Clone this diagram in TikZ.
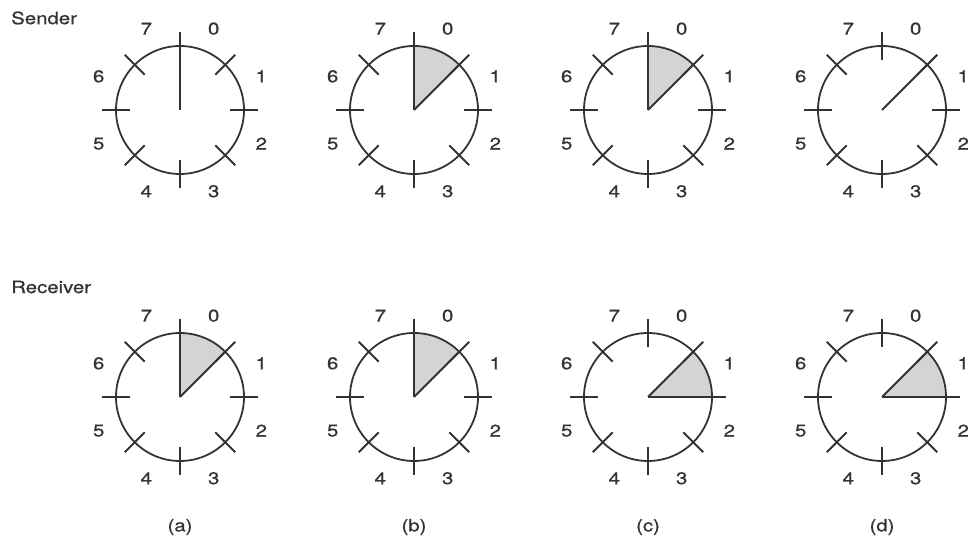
\documentclass[tikz,border=0pt]{standalone}
\usepackage{fontspec}
\setmainfont[FakeStretch=1.2,FakeBold=0.8]{TeX Gyre Heros}
\definecolor{ink}{HTML}{333333}
\definecolor{shade}{HTML}{D4D4D4}
\begin{document}
\begin{tikzpicture}[x=1pt,y=1pt,
  line/.style={draw=ink, line width=1.8pt},
  lbl/.style={font=\fontsize{17}{20}\selectfont, text=ink, inner sep=0pt},
  sector/.style={fill=shade},
  clockface/.pic={
    \draw[line] (0,0) circle[radius=64];
    \foreach \a in {0,45,...,315} \draw[line] (\a:50) -- (\a:78);
    \foreach \n/\ang in {0/67.5,1/22.5,2/-22.5,3/-67.5,4/-112.5,5/-157.5,6/157.5,7/112.5}
      \node[lbl] (-n\n) at (\ang:88) {\n};
  }]
\useasboundingbox (0,0) rectangle (968,543);
\node[lbl, anchor=west] (sender) at (11,525) {Sender};
\node[lbl, anchor=west] (receiver) at (11,256) {Receiver};
% sender row
\coordinate (sa) at (180,433);
\coordinate (sb) at (414,433);
\coordinate (sc) at (648,433);
\coordinate (sd) at (882,433);
% receiver row
\coordinate (ra) at (180,146);
\coordinate (rb) at (414,146);
\coordinate (rc) at (648,146);
\coordinate (rd) at (882,146);
% sectors 90->45
\foreach \c in {sb,sc,ra,rb}{
  \fill[sector] (\c) -- ++(90:64) arc[start angle=90,end angle=45,radius=64] -- cycle;
  \draw[line] (\c) -- ++(90:78);
  \draw[line] (\c) -- ++(45:64);
}
% sectors 45->0
\foreach \c in {rc,rd}{
  \fill[sector] (\c) -- ++(45:64) arc[start angle=45,end angle=0,radius=64] -- cycle;
  \draw[line] (\c) -- ++(0:78);
  \draw[line] (\c) -- ++(45:64);
}
\draw[line] (sa) -- ++(90:78);
\draw[line] (sd) -- ++(45:78);
\foreach \c in {sa,sb,sc,sd,ra,rb,rc,rd}
  \pic (\c) at (\c) {clockface};
\node[lbl] (capa) at (180,16) {(a)};
\node[lbl] (capb) at (414,16) {(b)};
\node[lbl] (capc) at (648,16) {(c)};
\node[lbl] (capd) at (882,16) {(d)};
\end{tikzpicture}
\end{document}
